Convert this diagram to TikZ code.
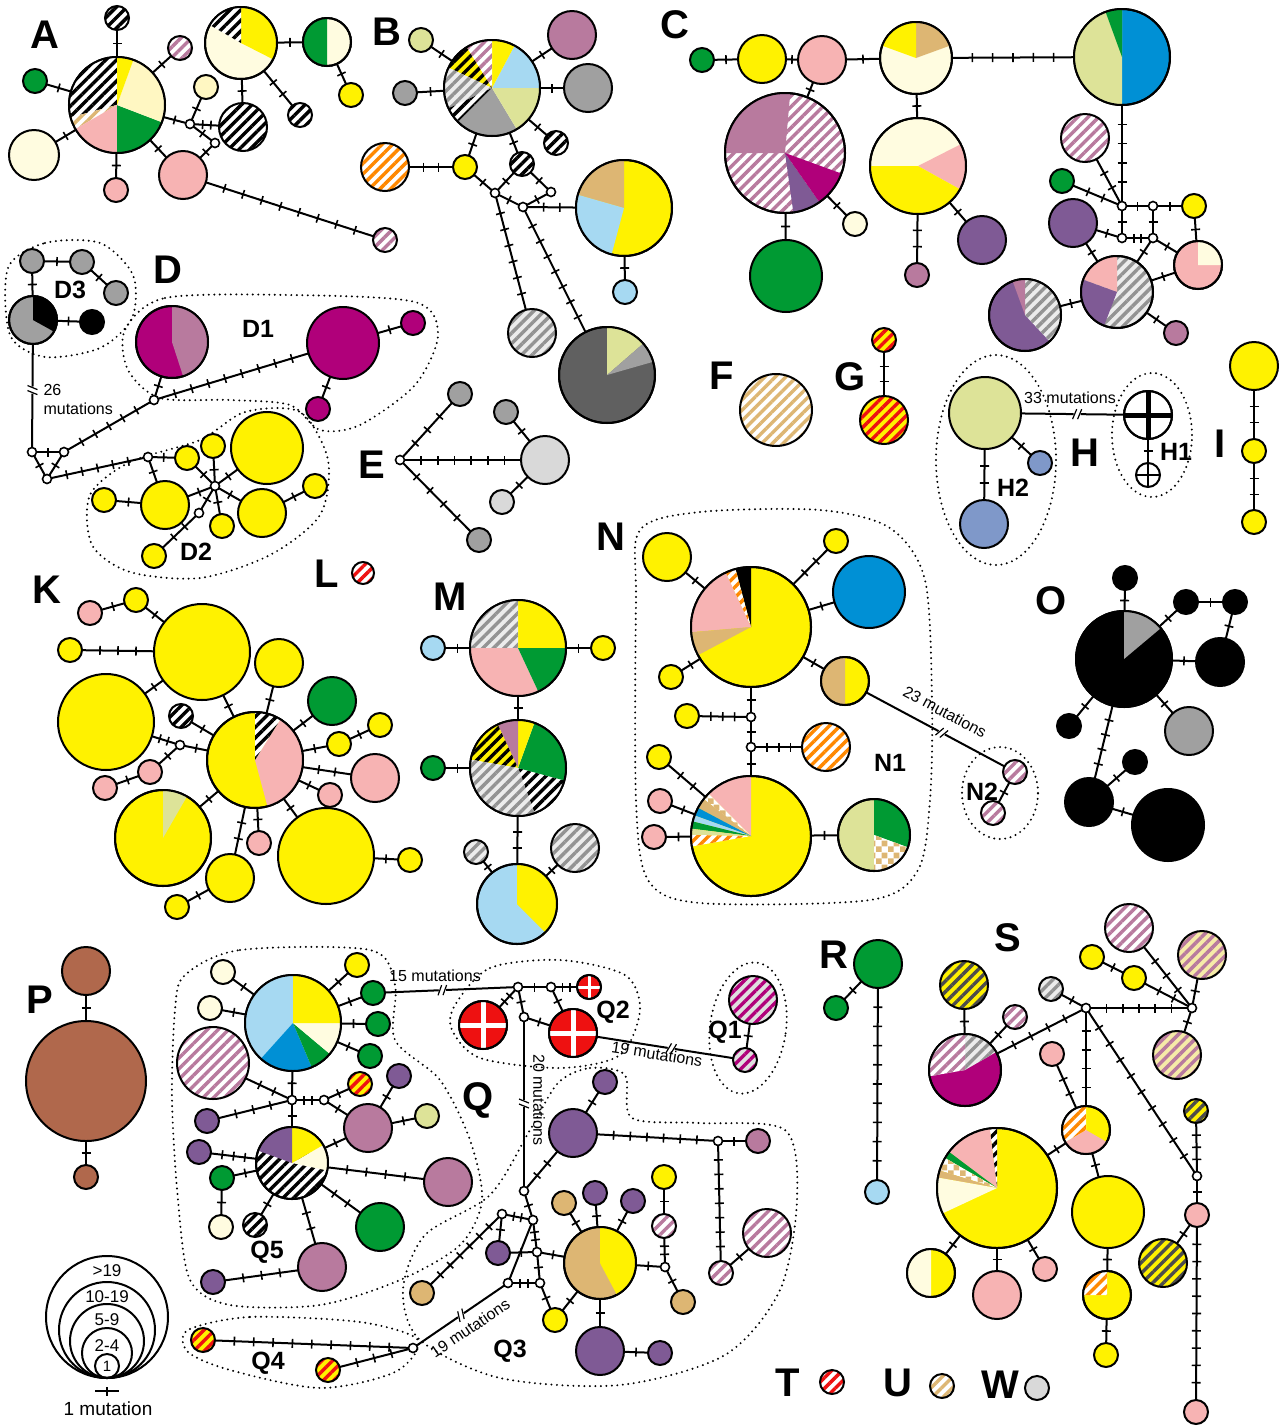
\documentclass[tikz,border=0pt]{standalone}
\usepackage{fontspec}
\setmainfont{Liberation Sans}
\usetikzlibrary{decorations.markings,patterns,patterns.meta}
\definecolor{cy}{HTML}{FFF200}
\definecolor{ccr}{HTML}{FFFCE0}
\definecolor{cpy}{HTML}{FFF7C2}
\definecolor{cgr}{HTML}{009A33}
\definecolor{cpk}{HTML}{F7B3B3}
\definecolor{cmv}{HTML}{B87A9E}
\definecolor{cmg}{HTML}{B0007A}
\definecolor{cpu}{HTML}{7F5A95}
\definecolor{clb}{HTML}{A6D9F2}
\definecolor{cbl}{HTML}{0090D5}
\definecolor{ctn}{HTML}{DDB673}
\definecolor{col}{HTML}{DDE398}
\definecolor{cgy}{HTML}{A0A0A0}
\definecolor{cdg}{HTML}{606060}
\definecolor{clg}{HTML}{D9D9D9}
\definecolor{cbr}{HTML}{B0684C}
\definecolor{csb}{HTML}{7F98C9}
\definecolor{crd}{HTML}{EE1111}
\definecolor{cor}{HTML}{FF8800}
\definecolor{cpy2}{HTML}{F6EBA8}
\tikzdeclarepattern{name=chkb, type=uncolored, bounding box={(0pt,0pt) and (12pt,12pt)}, tile size={(12pt,12pt)}, code={\fill (0pt,0pt) rectangle (6pt,6pt); \fill (6pt,6pt) rectangle (12pt,12pt);}}
\newcommand\tickmk{\draw[line width=1.6pt] (0pt,-4.5pt) -- (0pt,4.5pt);}
\newcommand\Hp[5]{\node[hap,minimum size={2*#4pt},#5] (#1) at (#2,-#3) {};}
\newcommand\Md[3]{\node[med] (#1) at (#2,-#3) {};}
\newcommand\Wg[5]{\fill[#5] (#1.center) -- ++(#3:#2pt) arc[start angle=#3,end angle=#4,radius=#2pt] -- cycle;}
\newcommand\Rm[2]{\draw[line width=2pt] (#1.center) circle[radius=#2pt];}
\newcommand\Ed[3][]{\draw[ed,#1] (#2) -- (#3);}
\tikzset{
 hap/.style={circle,draw,line width=2pt,inner sep=0pt,outer sep=0pt,fill=white},
 med/.style={circle,draw,line width=1.6pt,fill=white,inner sep=0pt,outer sep=0pt,minimum size=9pt},
 ed/.style={line width=2pt},
 hpat/.style 2 args={fill=#1, path picture={\fill[pattern={Lines[angle=45,distance=7.5pt,line width=3.4pt]}, pattern color=#2] (path picture bounding box.south west) rectangle (path picture bounding box.north east);}},
 hb/.style={hpat={white}{black}},
 hm/.style={hpat={white}{cmv}},
 hg/.style={hpat={gray!15}{gray!85}},
 ho/.style={hpat={white}{cor}},
 hry/.style={hpat={cy}{crd}},
 hyb/.style={hpat={cy}{black}},
 hyg/.style={hpat={cy}{black!70}},
 hym/.style={hpat={cpy2}{cmv}},
 hr/.style={hpat={white}{crd}},
 ht/.style={hpat={white}{ctn}},
 hmq/.style={hpat={gray!25}{cmg}},
 chk/.style={fill=white, path picture={\fill[pattern=chkb, pattern color=ctn] (path picture bounding box.south west) rectangle (path picture bounding box.north east);}},
 mut/.code={\pgfmathsetmacro\mutS{1/(#1+1)}\pgfmathsetmacro\mutE{#1/(#1+1)+0.002}\edef\mutT{\noexpand\tikzset{postaction={decorate,decoration={markings,mark=between positions \mutS\space and \mutE\space step \mutS\space with {\noexpand\tickmk}}}}}\mutT},
 brk/.style={postaction={decorate,decoration={markings,mark=at position #1 with {\fill[white] (-4pt,-5pt) rectangle (3pt,5pt); \draw[line width=1.2pt] (-5pt,-5pt)--(-1pt,5pt) (0pt,-5pt)--(4pt,5pt);}}}},
 dots/.style={line width=2.2pt,dash pattern=on 0pt off 5.5pt,line cap=round},
 plab/.style={font=\fontsize{40}{40}\selectfont\bfseries},
 slab/.style={font=\fontsize{25}{25}\selectfont\bfseries},
 mlab/.style={font=\fontsize{16}{19}\selectfont},
}
\begin{document}
\begin{tikzpicture}[x=1pt,y=1pt]
\useasboundingbox (0,0) rectangle (1279,-1428);
\fill[white] (0,0) rectangle (1279,-1428);
% ---------------- dotted outlines
\draw[dots] plot[smooth cycle] coordinates {(8,-268) (45,-243) (100,-243) (133,-275) (132,-318) (100,-348) (45,-357) (10,-335)};
\draw[dots] plot[smooth cycle] coordinates {(125,-330) (165,-298) (290,-295) (415,-302) (438,-335) (415,-385) (360,-425) (320,-430) (290,-405) (230,-400) (160,-398) (128,-370)};
\draw[dots] plot[smooth cycle] coordinates {(90,-495) (130,-462) (200,-440) (245,-412) (300,-412) (328,-460) (320,-515) (270,-555) (200,-578) (130,-572) (92,-545)};
\draw[dots] (996,-460) ellipse[x radius=60, y radius=105];
\draw[dots] (1152,-435) ellipse[x radius=40, y radius=62];
\draw[dots] plot[smooth cycle] coordinates {(640,-530) (700,-512) (820,-510) (890,-528) (925,-580) (932,-700) (930,-800) (918,-870) (870,-900) (700,-903) (648,-880) (636,-800) (636,-600)};
\draw[dots] (1000,-793) ellipse[x radius=38, y radius=46];
\draw[dots] plot[smooth cycle] coordinates {(185,-975) (240,-950) (370,-950) (395,-985) (395,-1040) (440,-1080) (470,-1140) (482,-1200) (460,-1245) (400,-1280) (320,-1305) (230,-1305) (190,-1280) (178,-1200) (172,-1100) (175,-1010)};
\draw[dots] plot[smooth cycle] coordinates {(455,-1005) (490,-968) (560,-960) (625,-975) (640,-1010) (620,-1055) (560,-1068) (480,-1058) (452,-1030)};
\draw[dots, rotate around={-8:(748,-1028)}] (748,-1028) ellipse[x radius=38, y radius=66];
\draw[dots] plot[smooth cycle] coordinates {(558,-1083) (590,-1068) (625,-1075) (632,-1118) (700,-1123) (785,-1130) (797,-1200) (780,-1290) (725,-1355) (620,-1385) (500,-1378) (420,-1340) (403,-1290) (425,-1235) (490,-1195) (530,-1130)};
\draw[dots] plot[smooth cycle] coordinates {(188,-1330) (250,-1317) (360,-1322) (418,-1340) (395,-1372) (320,-1388) (230,-1370) (188,-1352)};
% ---------------- panel labels
\node[plab] (lA) at (45,-35) {A};
\node[plab] (lB) at (387,-32) {B};
\node[plab] (lC) at (675,-25) {C};
\node[plab] (lD) at (168,-270) {D};
\node[plab] (lE) at (372,-465) {E};
\node[plab] (lF) at (722,-376) {F};
\node[plab] (lG) at (850,-377) {G};
\node[plab] (lH) at (1085,-453) {H};
\node[plab] (lI) at (1220,-444) {I};
\node[plab] (lK) at (47,-590) {K};
\node[plab] (lL) at (327,-574) {L};
\node[plab] (lM) at (450,-597) {M};
\node[plab] (lN) at (611,-537) {N};
\node[plab] (lO) at (1051,-601) {O};
\node[plab] (lP) at (40,-1000) {P};
\node[plab] (lQ) at (478,-1100) {Q};
\node[plab] (lR) at (834,-955) {R};
\node[plab] (lS) at (1008,-938) {S};
\node[plab] (lT) at (788,-1383) {T};
\node[plab] (lU) at (898,-1383) {U};
\node[plab] (lW) at (1000,-1385) {W};
\node[slab] (sD3) at (70,-290) {D3};
\node[slab] (sD1) at (258,-329) {D1};
\node[slab] (sD2) at (196,-552) {D2};
\node[slab] (sH2) at (1013,-488) {H2};
\node[slab] (sH1) at (1176,-452) {H1};
\node[slab] (sN1) at (890,-763) {N1};
\node[slab] (sN2) at (982,-792) {N2};
\node[slab] (sQ5) at (267,-1252) {Q5};
\node[slab] (sQ4) at (268,-1363) {Q4};
\node[slab] (sQ3) at (510,-1351) {Q3};
\node[slab] (sQ2) at (613,-1012) {Q2};
\node[slab] (sQ1) at (725,-1032) {Q1};
% ---------------- A
\Hp{a0}{117}{105}{48}{fill=white}
\Wg{a0}{48}{90}{195}{hb}
\Wg{a0}{48}{195}{210}{ht}
\Wg{a0}{48}{210}{270}{fill=cpk}
\Wg{a0}{48}{270}{339}{fill=cgr}
\Wg{a0}{48}{339}{430}{fill=cpy}
\Wg{a0}{48}{70}{90}{fill=cy}
\Rm{a0}{48}
\Hp{a1}{117}{18}{12}{hb}
\Hp{a2}{180}{48}{12}{hm}
\Hp{a3}{35}{81}{12}{fill=cgr}
\Hp{a4}{34}{155}{25}{fill=ccr}
\Hp{a5}{116}{190}{12}{fill=cpk}
\Hp{a6}{183}{175}{24}{fill=cpk}
\Md{am1}{190}{124}
\Md{am2}{215}{143}
\Hp{a7}{206}{87}{12}{fill=cpy}
\Hp{a8}{243}{127}{24}{hb}
\Hp{a9}{241}{43}{36}{fill=ccr}
\Wg{a9}{36}{-27}{90}{fill=cy}
\Wg{a9}{36}{90}{150}{hb}
\Rm{a9}{36}
\Hp{a10}{300}{115}{12}{hb}
\Hp{a11}{327}{42}{24}{fill=ccr}
\Wg{a11}{24}{90}{270}{fill=cgr}
\Rm{a11}{24}
\Hp{a12}{351}{95}{12}{fill=cy}
\Hp{a13}{385}{240}{12}{hm}
\Ed[mut=1]{a0}{a1}\Ed[mut=1]{a0}{a2}\Ed[mut=1]{a0}{a3}\Ed[mut=1]{a0}{a4}
\Ed[mut=1]{a0}{a5}\Ed[mut=1]{a0}{a6}\Ed[mut=1]{a0}{am1}\Ed[mut=1]{am1}{a7}
\Ed[mut=2]{am1}{a8}\Ed[mut=1]{am1}{am2}\Ed[mut=1]{am2}{a6}\Ed[mut=1]{a8}{a9}
\Ed[mut=2]{a9}{a10}\Ed[mut=1]{a9}{a11}\Ed[mut=1]{a11}{a12}\Ed[mut=8]{a6}{a13}
% ---------------- B
\Hp{b0}{492}{88}{48}{fill=white}
\Wg{b0}{48}{0}{62}{fill=clb}
\Wg{b0}{48}{62}{90}{fill=cy}
\Wg{b0}{48}{90}{122}{hm}
\Wg{b0}{48}{122}{155}{hyb}
\Wg{b0}{48}{155}{205}{hg}
\Wg{b0}{48}{205}{225}{hb}
\Wg{b0}{48}{225}{301}{fill=cgy}
\Wg{b0}{48}{301}{360}{fill=col}
\Rm{b0}{48}
\Hp{b1}{421}{40}{12}{fill=col}
\Hp{b2}{405}{93}{12}{fill=cgy}
\Hp{b3}{572}{35}{24}{fill=cmv}
\Hp{b4}{588}{88}{24}{fill=cgy}
\Hp{b5}{556}{143}{12}{hb}
\Hp{b6}{465}{167}{12}{fill=cy}
\Hp{b7}{385}{167}{24}{ho}
\Hp{b8}{522}{164}{12}{hb}
\Md{bm1}{495}{193}\Md{bm2}{523}{207}\Md{bm3}{551}{192}
\Hp{b9}{624}{208}{48}{fill=cy}
\Wg{b9}{48}{90}{164}{fill=ctn}
\Wg{b9}{48}{164}{255}{fill=clb}
\Rm{b9}{48}
\Hp{b10}{625}{292}{12}{fill=clb}
\Hp{b11}{532}{333}{24}{hg}
\Hp{b12}{607}{375}{48}{fill=cdg}
\Wg{b12}{48}{41}{90}{fill=col}
\Wg{b12}{48}{16}{41}{fill=cgy}
\Rm{b12}{48}
\Ed[mut=1]{b0}{b1}\Ed[mut=1]{b0}{b2}\Ed[mut=1]{b0}{b3}\Ed[mut=1]{b0}{b4}
\Ed[mut=1]{b0}{b5}\Ed[mut=1]{b0}{b6}\Ed[mut=2]{b6}{b7}\Ed[mut=1]{b0}{b8}
\Ed[mut=1]{b6}{bm1}\Ed[mut=1]{b8}{bm1}\Ed[mut=1]{b8}{bm3}\Ed[mut=1]{bm1}{bm2}
\Ed[mut=1]{bm3}{bm2}\Ed[mut=2]{bm2}{b9}\Ed[mut=1]{b9}{b10}\Ed[mut=6]{bm1}{b11}
\Ed[mut=7]{bm2}{b12}
% ---------------- C
\Hp{c1}{702}{60}{12}{fill=cgr}
\Hp{c2}{762}{59}{24}{fill=cy}
\Hp{c3}{822}{60}{24}{fill=cpk}
\Hp{c4}{916}{58}{36}{fill=ccr}
\Wg{c4}{36}{20}{90}{fill=ctn}
\Wg{c4}{36}{90}{160}{fill=cy}
\Rm{c4}{36}
\Hp{c5}{1122}{57}{48}{fill=cbl}
\Wg{c5}{48}{90}{270}{fill=col}
\Wg{c5}{48}{90}{110}{fill=cgr}
\Rm{c5}{48}
\Hp{c6}{785}{153}{60}{hm}
\Wg{c6}{60}{85}{180}{fill=cmv}
\Wg{c6}{60}{278}{305}{fill=cpu}
\Wg{c6}{60}{305}{340}{fill=cmg}
\Rm{c6}{60}
\Hp{c7}{855}{224}{12}{fill=ccr}
\Hp{c8}{786}{276}{36}{fill=cgr}
\Hp{c9}{918}{166}{48}{fill=ccr}
\Wg{c9}{48}{-29}{27}{fill=cpk}
\Wg{c9}{48}{180}{331}{fill=cy}
\Rm{c9}{48}
\Hp{c10}{917}{275}{12}{fill=cmv}
\Hp{c11}{982}{240}{24}{fill=cpu}
\Md{cm1}{1122}{206}\Md{cm2}{1153}{206}\Md{cm3}{1122}{238}\Md{cm4}{1153}{238}
\Hp{c12}{1085}{138}{24}{hm}
\Hp{c13}{1062}{181}{12}{fill=cgr}
\Hp{c14}{1194}{206}{12}{fill=cy}
\Hp{c15}{1073}{223}{24}{fill=cpu}
\Hp{c16}{1198}{265}{24}{fill=cpk}
\Wg{c16}{24}{0}{90}{fill=ccr}
\Rm{c16}{24}
\Hp{c17}{1117}{292}{36}{hg}
\Wg{c17}{36}{90}{160}{fill=cpk}
\Wg{c17}{36}{160}{249}{fill=cpu}
\Rm{c17}{36}
\Hp{c18}{1025}{315}{36}{fill=cpu}
\Wg{c18}{36}{-47}{90}{hg}
\Wg{c18}{36}{90}{110}{fill=cmv}
\Rm{c18}{36}
\Hp{c19}{1176}{333}{12}{fill=cmv}
\Ed[mut=1]{c1}{c2}\Ed[mut=1]{c2}{c3}\Ed[mut=1]{c3}{c4}\Ed[mut=5]{c4}{c5}
\Ed[mut=1]{c3}{c6}\Ed[mut=1]{c6}{c7}\Ed[mut=1]{c6}{c8}\Ed[mut=1]{c4}{c9}
\Ed[mut=2]{c9}{c10}\Ed[mut=1]{c9}{c11}\Ed[mut=4]{c5}{cm1}\Ed[mut=2]{c12}{cm1}
\Ed[mut=2]{c13}{cm1}\Ed[mut=1]{cm1}{cm2}\Ed[mut=1]{cm2}{c14}\Ed[mut=1]{cm1}{cm3}
\Ed[mut=1]{cm2}{cm4}\Ed[mut=2]{cm3}{cm4}\Ed[mut=1]{c15}{cm3}\Ed[mut=1]{c14}{c16}
\Ed[mut=1]{cm4}{c16}\Ed[mut=1]{cm4}{c17}\Ed[mut=1]{c15}{c17}\Ed[mut=1]{c17}{c16}
\Ed[mut=1]{c17}{c18}\Ed[mut=1]{c17}{c19}
% ---------------- D
\Hp{d1}{32}{261}{12}{fill=cgy}
\Hp{d2}{82}{262}{12}{fill=cgy}
\Hp{d3}{116}{293}{12}{fill=cgy}
\Hp{d4}{33}{320}{24}{fill=cgy}
\Wg{d4}{24}{-29}{90}{fill=black}
\Rm{d4}{24}
\Hp{d5}{92}{322}{12}{fill=black}
\Md{dmA}{32}{452}\Md{dmB}{64}{452}\Md{dmC}{47}{479}\Md{dmD}{154}{400}
\Hp{d6}{172}{342}{36}{fill=cmg}
\Wg{d6}{36}{-72}{90}{fill=cmv}
\Rm{d6}{36}
\Hp{d7}{343}{343}{36}{fill=cmg}
\Hp{d8}{413}{323}{12}{fill=cmg}
\Hp{d9}{318}{409}{12}{fill=cmg}
\Md{dmE}{148}{457}
\Hp{d10}{187}{458}{12}{fill=cy}
\Hp{d11}{213}{446}{12}{fill=cy}
\Hp{d12}{267}{448}{36}{fill=cy}
\Md{dmF}{215}{486}
\Hp{d13}{165}{505}{24}{fill=cy}
\Hp{d14}{104}{500}{12}{fill=cy}
\Hp{d15}{262}{513}{24}{fill=cy}
\Hp{d16}{315}{486}{12}{fill=cy}
\Hp{d17}{222}{526}{12}{fill=cy}
\Md{dmG}{199}{513}
\Hp{d18}{154}{556}{12}{fill=cy}
\Ed[mut=1]{d1}{d2}\Ed[mut=1]{d2}{d3}\Ed[mut=1]{d1}{d4}\Ed[mut=1]{d4}{d5}
\Ed[brk=0.45]{d4}{dmA}
\Ed[mut=1]{dmA}{dmB}\Ed[mut=1]{dmA}{dmC}\Ed[mut=1]{dmB}{dmC}\Ed[mut=5]{dmB}{dmD}
\Ed[mut=1]{dmD}{d6}\Ed[mut=8]{dmD}{d7}\Ed[mut=1]{d7}{d8}\Ed[mut=1]{d7}{d9}
\Ed[mut=5]{dmC}{dmE}\Ed[mut=1]{dmE}{d10}\Ed[mut=1]{dmE}{d13}\Ed[mut=1]{d13}{d14}
\Ed[mut=1]{dmF}{d10}\Ed[mut=1]{dmF}{d11}\Ed[mut=1]{dmF}{d12}\Ed[mut=1]{dmF}{d15}
\Ed[mut=1]{dmF}{d17}\Ed[mut=1]{dmF}{d13}\Ed[mut=1]{dmF}{dmG}\Ed[mut=2]{dmG}{d18}
\Ed[mut=1]{d15}{d16}
\node[mlab,anchor=west,align=left] (t26) at (40,-399) {26\\mutations};
% ---------------- E
\Md{em}{400}{460}
\Hp{e1}{460}{394}{12}{fill=cgy}
\Hp{e2}{506}{412}{12}{fill=cgy}
\Hp{e3}{545}{460}{24}{fill=clg}
\Hp{e4}{502}{502}{12}{fill=clg}
\Hp{e5}{479}{540}{12}{fill=cgy}
\Ed[mut=3]{em}{e1}\Ed[mut=6]{em}{e3}\Ed[mut=4]{em}{e5}\Ed[mut=1]{e2}{e3}\Ed[mut=1]{e4}{e3}
% ---------------- F G
\Hp{f1}{776}{410}{36}{ht}
\Hp{g1}{884}{340}{12}{hry}
\Hp{g2}{884}{420}{24}{hry}
\Ed[mut=2]{g1}{g2}
% ---------------- H
\Hp{h1}{985}{413}{36}{fill=col}
\Hp{h2}{1040}{463}{12}{fill=csb}
\Hp{h3}{984}{524}{24}{fill=csb}
\Hp{h4}{1148}{415}{24}{fill=white}
\draw[line width=5pt] (h4.north) -- (h4.south) (h4.west) -- (h4.east);
\Rm{h4}{24}
\Hp{h5}{1148}{475}{12}{fill=white}
\draw[line width=2pt] (h5.north) -- (h5.south) (h5.west) -- (h5.east);
\Ed[mut=1]{h1}{h2}\Ed[mut=2]{h1}{h3}\Ed[mut=1]{h4}{h5}\Ed[brk=0.55]{h1}{h4}
\node[mlab] (t33) at (1070,-398) {33 mutations};
% ---------------- I
\Hp{i1}{1254}{366}{24}{fill=cy}
\Hp{i2}{1254}{451}{12}{fill=cy}
\Hp{i3}{1254}{522}{12}{fill=cy}
\Ed[mut=2]{i1}{i2}\Ed[mut=2]{i2}{i3}
% ---------------- K
\Hp{k0}{255}{760}{48}{fill=cy}
\Wg{k0}{48}{-75}{58}{fill=cpk}
\Wg{k0}{48}{58}{90}{hb}
\Rm{k0}{48}
\Hp{k1}{202}{652}{48}{fill=cy}
\Hp{k2}{106}{722}{48}{fill=cy}
\Hp{k3}{163}{838}{48}{fill=cy}
\Wg{k3}{48}{60}{90}{fill=col}
\Rm{k3}{48}
\Hp{k4}{326}{856}{48}{fill=cy}
\Hp{k5}{279}{663}{24}{fill=cy}
\Hp{k6}{332}{701}{24}{fill=cgr}
\Hp{k7}{181}{716}{12}{hb}
\Md{km}{180}{745}
\Hp{k8}{150}{772}{12}{fill=cpk}
\Hp{k9}{105}{788}{12}{fill=cpk}
\Hp{k10}{339}{744}{12}{fill=cy}
\Hp{k11}{380}{725}{12}{fill=cy}
\Hp{k12}{375}{778}{24}{fill=cpk}
\Hp{k13}{330}{795}{12}{fill=cpk}
\Hp{k14}{259}{843}{12}{fill=cpk}
\Hp{k15}{230}{878}{24}{fill=cy}
\Hp{k16}{177}{907}{12}{fill=cy}
\Hp{k17}{410}{860}{12}{fill=cy}
\Hp{k18}{90}{613}{12}{fill=cpk}
\Hp{k19}{136}{600}{12}{fill=cy}
\Hp{k20}{70}{650}{12}{fill=cy}
\Ed[mut=1]{k0}{k1}\Ed[mut=1]{k1}{k19}\Ed[mut=1]{k19}{k18}\Ed[mut=3]{k1}{k20}
\Ed[mut=1]{k1}{k2}\Ed[mut=2]{k2}{km}\Ed[mut=1]{km}{k0}\Ed[mut=1]{km}{k8}
\Ed[mut=1]{k8}{k9}\Ed[mut=1]{k7}{k0}\Ed[mut=1]{k0}{k5}\Ed[mut=1]{k0}{k6}
\Ed[mut=1]{k0}{k10}\Ed[mut=1]{k10}{k11}\Ed[mut=2]{k0}{k12}\Ed[mut=1]{k0}{k13}
\Ed[mut=1]{k0}{k3}\Ed[mut=1]{k0}{k14}\Ed[mut=2]{k0}{k15}\Ed[mut=1]{k15}{k16}
\Ed[mut=1]{k0}{k4}\Ed[mut=1]{k4}{k17}
% ---------------- L
\Hp{l1}{363}{573}{11}{hr}
% ---------------- M
\Hp{m1}{518}{648}{48}{fill=white}
\Wg{m1}{48}{0}{90}{fill=cy}
\Wg{m1}{48}{90}{180}{hg}
\Wg{m1}{48}{180}{295}{fill=cpk}
\Wg{m1}{48}{295}{360}{fill=cgr}
\Rm{m1}{48}
\Hp{m2}{433}{648}{12}{fill=clb}
\Hp{m3}{603}{648}{12}{fill=cy}
\Hp{m4}{518}{768}{48}{fill=white}
\Wg{m4}{48}{290}{345}{hb}
\Wg{m4}{48}{345}{430}{fill=cgr}
\Wg{m4}{48}{70}{90}{fill=cy}
\Wg{m4}{48}{90}{115}{fill=cmv}
\Wg{m4}{48}{115}{170}{hyb}
\Wg{m4}{48}{170}{290}{hg}
\Rm{m4}{48}
\Hp{m5}{433}{768}{12}{fill=cgr}
\Hp{m6}{517}{904}{40}{fill=clb}
\Wg{m6}{40}{-45}{90}{fill=cy}
\Rm{m6}{40}
\Hp{m7}{476}{852}{12}{hg}
\Hp{m8}{575}{848}{24}{hg}
\Ed[mut=1]{m1}{m2}\Ed[mut=1]{m1}{m3}\Ed[mut=1]{m1}{m4}\Ed[mut=1]{m4}{m5}
\Ed[mut=2]{m4}{m6}\Ed[mut=1]{m6}{m7}\Ed[mut=1]{m6}{m8}
% ---------------- N
\Hp{n0}{751}{627}{60}{fill=cy}
\Wg{n0}{60}{90}{105}{fill=black}
\Wg{n0}{60}{105}{115}{ho}
\Wg{n0}{60}{115}{185}{fill=cpk}
\Wg{n0}{60}{185}{208}{fill=ctn}
\Rm{n0}{60}
\Hp{n1}{667}{557}{24}{fill=cy}
\Hp{n2}{836}{541}{12}{fill=cy}
\Hp{n3}{869}{592}{36}{fill=cbl}
\Hp{n4}{671}{677}{12}{fill=cy}
\Hp{n5}{845}{681}{24}{fill=cy}
\Wg{n5}{24}{90}{270}{fill=ctn}
\Rm{n5}{24}
\Md{nm1}{751}{717}\Md{nm2}{751}{747}
\Hp{n6}{687}{716}{12}{fill=cy}
\Hp{n7}{826}{747}{24}{ho}
\Hp{n8}{751}{836}{60}{fill=cy}
\Wg{n8}{60}{90}{135}{fill=cpk}
\Wg{n8}{60}{135}{142}{chk}
\Wg{n8}{60}{142}{152}{fill=ctn}
\Wg{n8}{60}{152}{160}{fill=cbl}
\Wg{n8}{60}{160}{166}{fill=clb}
\Wg{n8}{60}{166}{173}{fill=cgr}
\Wg{n8}{60}{173}{179}{fill=col}
\Wg{n8}{60}{179}{190}{ho}
\Rm{n8}{60}
\Hp{n9}{659}{757}{12}{fill=cy}
\Hp{n10}{660}{801}{12}{fill=cpk}
\Hp{n11}{654}{837}{12}{fill=cpk}
\Hp{n12}{874}{835}{36}{fill=col}
\Wg{n12}{36}{-20}{90}{fill=cgr}
\Wg{n12}{36}{-90}{-20}{chk}
\Rm{n12}{36}
\Hp{n13}{1015}{772}{12}{hm}
\Hp{n14}{993}{813}{12}{hm}
\Ed[mut=1]{n0}{n1}\Ed[mut=2]{n0}{n2}\Ed[mut=1]{n0}{n3}\Ed[mut=1]{n0}{n4}
\Ed[mut=1]{n0}{n5}\Ed[mut=1]{n0}{nm1}\Ed[mut=1]{nm1}{nm2}\Ed[mut=1]{nm2}{n8}
\Ed[mut=3]{nm1}{n6}\Ed[mut=3]{nm2}{n7}\Ed[mut=2]{n8}{n9}\Ed[mut=1]{n8}{n10}
\Ed[mut=1]{n8}{n11}\Ed[mut=1]{n8}{n12}\Ed[brk=0.55]{n5}{n13}\Ed[mut=1]{n13}{n14}
\node[mlab,rotate=-28] (t23) at (945,-712) {23 mutations};
% ---------------- O
\Hp{o0}{1124}{659}{48}{fill=black}
\Wg{o0}{48}{40}{90}{fill=cgy}
\Rm{o0}{48}
\Hp{o1}{1125}{578}{12}{fill=black}
\Hp{o2}{1186}{602}{12}{fill=black}
\Hp{o3}{1235}{602}{12}{fill=black}
\Hp{o4}{1220}{662}{24}{fill=black}
\Hp{o5}{1069}{726}{12}{fill=black}
\Hp{o6}{1189}{731}{24}{fill=cgy}
\Hp{o7}{1089}{802}{24}{fill=black}
\Hp{o8}{1135}{762}{12}{fill=black}
\Hp{o9}{1168}{825}{36}{fill=black}
\Ed[mut=1]{o0}{o1}\Ed[mut=1]{o0}{o2}\Ed[mut=1]{o2}{o3}\Ed[mut=1]{o3}{o4}
\Ed[mut=1]{o0}{o4}\Ed[mut=1]{o0}{o5}\Ed[mut=1]{o0}{o6}\Ed[mut=4]{o0}{o7}
\Ed[mut=1]{o7}{o8}\Ed[mut=1]{o7}{o9}
% ---------------- P
\Hp{p1}{86}{971}{24}{fill=cbr}
\Hp{p2}{86}{1081}{60}{fill=cbr}
\Hp{p3}{86}{1177}{12}{fill=cbr}
\Ed[mut=1]{p1}{p2}\Ed[mut=1]{p2}{p3}
% ---------------- legend
\draw[line width=2pt] (107,-1317) circle[radius=61];
\draw[line width=2pt] (107,-1330) circle[radius=48];
\draw[line width=2pt] (107,-1341) circle[radius=37];
\draw[line width=2pt] (107,-1353) circle[radius=25];
\draw[line width=2pt] (107,-1366) circle[radius=12];
\node[font=\fontsize{17}{17}\selectfont] (lg1) at (107,-1271) {>19};
\node[font=\fontsize{17}{17}\selectfont] (lg2) at (107,-1297) {10-19};
\node[font=\fontsize{17}{17}\selectfont] (lg3) at (107,-1320) {5-9};
\node[font=\fontsize{17}{17}\selectfont] (lg4) at (107,-1346) {2-4};
\node[font=\fontsize{15}{15}\selectfont] (lg5) at (107,-1366) {1};
\coordinate (lgL) at (95,-1391);
\coordinate (lgR) at (119,-1391);
\draw[ed,mut=1] (lgL) -- (lgR);
\node[font=\fontsize{19}{19}\selectfont] (lg6) at (108,-1409) {1 mutation};
% ---------------- Q5
\Hp{q0}{293}{1023}{48}{fill=white}
\Wg{q0}{48}{90}{228}{fill=clb}
\Wg{q0}{48}{228}{293}{fill=cbl}
\Wg{q0}{48}{293}{320}{fill=cgr}
\Wg{q0}{48}{320}{360}{fill=ccr}
\Wg{q0}{48}{0}{90}{fill=cy}
\Rm{q0}{48}
\Hp{q1}{223}{972}{12}{fill=ccr}
\Hp{q2}{210}{1008}{12}{fill=ccr}
\Hp{q3}{357}{965}{12}{fill=cy}
\Hp{q4}{373}{993}{12}{fill=cgr}
\Hp{q5}{378}{1024}{12}{fill=cgr}
\Hp{q6}{370}{1056}{12}{fill=cgr}
\Hp{q7}{213}{1063}{36}{hm}
\Md{qm1}{292}{1100}\Md{qm2}{324}{1100}
\Hp{q8}{207}{1121}{12}{fill=cpu}
\Hp{q9}{292}{1163}{36}{hb}
\Wg{q9}{36}{-12}{30}{fill=ccr}
\Wg{q9}{36}{30}{90}{fill=cy}
\Wg{q9}{36}{90}{160}{fill=cpu}
\Rm{q9}{36}
\Hp{q10}{360}{1084}{12}{hry}
\Hp{q11}{368}{1128}{24}{fill=cmv}
\Hp{q12}{399}{1076}{12}{fill=cpu}
\Hp{q13}{427}{1116}{12}{fill=col}
\Hp{q14}{199}{1152}{12}{fill=cpu}
\Hp{q15}{222}{1178}{12}{fill=cgr}
\Hp{q16}{221}{1227}{12}{fill=ccr}
\Hp{q17}{255}{1225}{12}{hb}
\Hp{q18}{448}{1182}{24}{fill=cmv}
\Hp{q19}{380}{1227}{24}{fill=cgr}
\Hp{q20}{322}{1267}{24}{fill=cmv}
\Hp{q21}{213}{1282}{12}{fill=cpu}
\Ed[mut=1]{q0}{q1}\Ed[mut=1]{q0}{q2}\Ed[mut=1]{q0}{q3}\Ed[mut=1]{q0}{q4}
\Ed[mut=1]{q0}{q5}\Ed[mut=1]{q0}{q6}\Ed[mut=2]{q7}{qm1}\Ed[mut=1]{q0}{qm1}
\Ed[mut=2]{qm1}{qm2}\Ed[mut=3]{qm1}{q8}\Ed[mut=1]{qm1}{q9}\Ed[mut=1]{qm2}{q10}
\Ed[mut=1]{qm2}{q11}\Ed[mut=1]{q11}{q12}\Ed[mut=1]{q11}{q13}\Ed[mut=1]{q11}{q9}
\Ed[mut=3]{q9}{q14}\Ed[mut=1]{q9}{q15}\Ed[mut=1]{q15}{q16}\Ed[mut=1]{q9}{q17}
\Ed[mut=4]{q9}{q18}\Ed[mut=2]{q9}{q19}\Ed[mut=2]{q9}{q20}\Ed[mut=3]{q20}{q21}
% ---------------- Q2 Q1
\Md{qq1}{518}{987}\Md{qq2}{551}{987}\Md{qq3}{524}{1017}
\Hp{r1}{589}{987}{12}{fill=crd}
\draw[white,line width=3pt] (r1.north) -- (r1.south) (r1.west) -- (r1.east);
\Rm{r1}{12}
\Hp{r2}{483}{1025}{24}{fill=crd}
\draw[white,line width=5pt] (r2.north) -- (r2.south) (r2.west) -- (r2.east);
\Rm{r2}{24}
\Hp{r3}{573}{1033}{24}{fill=crd}
\draw[white,line width=5pt] (r3.north) -- (r3.south) (r3.west) -- (r3.east);
\Rm{r3}{24}
\Ed[brk=0.45]{q4}{qq1}
\node[mlab] (t15) at (435,-976) {15 mutations};
\Ed[mut=1]{qq1}{qq2}\Ed[mut=2]{qq2}{r1}\Ed[mut=2]{qq1}{r2}\Ed[mut=1]{qq1}{qq3}
\Ed[mut=1]{qq3}{r3}\Ed[mut=1]{qq2}{r3}
\Hp{s1}{753}{1000}{24}{hmq}
\Hp{s2}{745}{1060}{12}{hmq}
\Ed[mut=1]{s1}{s2}
\Ed[brk=0.55]{r3}{s2}
\node[mlab,rotate=-9] (t19a) at (657,-1054) {19 mutations};
% ---------------- Q3
\Md{qq4}{524}{1191}
\Ed[brk=0.5]{qq3}{qq4}
\node[mlab,rotate=-90] (t20) at (539,-1100) {20 mutations};
\Hp{t1}{573}{1133}{24}{fill=cpu}
\Hp{t2}{605}{1082}{12}{fill=cpu}
\Md{qq5}{718}{1141}
\Hp{t3}{758}{1141}{12}{fill=cmv}
\Hp{t4}{721}{1273}{12}{hm}
\Hp{t5}{767}{1233}{24}{hm}
\Md{qq6}{533}{1220}\Md{qq7}{502}{1214}
\Hp{t6}{498}{1253}{12}{fill=cpu}
\Hp{t7}{422}{1293}{12}{fill=ctn}
\Md{qq8}{537}{1252}\Md{qq9}{508}{1283}\Md{qq10}{540}{1283}
\Hp{t8}{600}{1263}{36}{fill=ctn}
\Wg{t8}{36}{-62}{90}{fill=cy}
\Rm{t8}{36}
\Hp{t9}{555}{1320}{12}{fill=cy}
\Hp{t10}{564}{1203}{12}{fill=ctn}
\Hp{t11}{595}{1193}{12}{fill=cpu}
\Hp{t12}{633}{1201}{12}{fill=cpu}
\Md{qq12}{665}{1267}
\Hp{t13}{664}{1226}{12}{hm}
\Hp{t14}{664}{1177}{12}{fill=cy}
\Hp{t15}{683}{1302}{12}{fill=ctn}
\Hp{t16}{600}{1351}{24}{fill=cpu}
\Hp{t17}{660}{1353}{12}{fill=cpu}
\Ed[mut=2]{qq4}{t1}\Ed[mut=1]{t1}{t2}\Ed[mut=6]{t1}{qq5}\Ed[mut=1]{qq5}{t3}
\Ed[mut=7]{qq5}{t4}\Ed[mut=1]{t4}{t5}\Ed[mut=1]{qq4}{qq6}\Ed[mut=2]{qq6}{qq7}
\Ed[mut=1]{qq7}{t6}\Ed[mut=6]{qq7}{t7}\Ed[mut=2]{qq6}{qq8}\Ed{qq6}{qq9}
\Ed[mut=1]{qq8}{t8}\Ed[mut=1]{t6}{qq8}\Ed[mut=1]{qq8}{qq10}\Ed[mut=2]{qq9}{qq10}
\Ed[mut=1]{qq10}{t9}\Ed[mut=1]{t9}{t8}\Ed[mut=1]{t8}{t10}\Ed[mut=1]{t8}{t11}
\Ed[mut=1]{t8}{t12}\Ed[mut=1]{t8}{qq12}\Ed[mut=2]{qq12}{t13}\Ed[mut=1]{t13}{t14}
\Ed[mut=1]{qq12}{t15}\Ed[mut=1]{t8}{t16}\Ed[mut=1]{t16}{t17}
% ---------------- Q4
\Md{qm4}{413}{1348}
\Hp{u1}{203}{1340}{12}{hry}
\Hp{u2}{328}{1370}{12}{hry}
\Ed[mut=9]{qm4}{u1}\Ed[mut=3]{qm4}{u2}
\Ed[brk=0.5]{qq9}{qm4}
\node[mlab,rotate=34] (t19b) at (470,-1328) {19 mutations};
% ---------------- R
\Hp{v1}{878}{964}{24}{fill=cgr}
\Hp{v2}{836}{1008}{12}{fill=cgr}
\Hp{v3}{877}{1192}{12}{fill=clb}
\Ed[mut=1]{v1}{v2}\Ed[mut=9]{v1}{v3}
% ---------------- S
\Md{sm1}{1086}{1008}\Md{sm2}{1192}{1008}\Md{sm3}{1197}{1176}
\Hp{w1}{1051}{989}{12}{hg}
\Hp{w2}{1129}{928}{24}{hm}
\Hp{w3}{1092}{957}{12}{fill=cy}
\Hp{w4}{1134}{978}{12}{fill=cy}
\Hp{w5}{1202}{955}{24}{hym}
\Hp{w6}{1177}{1055}{24}{hym}
\Hp{w7}{964}{985}{24}{hyg}
\Hp{w8}{965}{1070}{36}{fill=cmg}
\Wg{w8}{36}{30}{90}{hg}
\Wg{w8}{36}{90}{190}{hm}
\Rm{w8}{36}
\Hp{w9}{1015}{1017}{12}{hm}
\Hp{w10}{1052}{1054}{12}{fill=cpk}
\Hp{w11}{1086}{1130}{24}{fill=cy}
\Wg{w11}{24}{210}{330}{fill=cpk}
\Wg{w11}{24}{90}{210}{ho}
\Rm{w11}{24}
\Hp{w12}{1196}{1111}{12}{hyg}
\Hp{w13}{1197}{1215}{12}{fill=cpk}
\Hp{w14}{1163}{1263}{24}{hyg}
\Hp{w15}{1196}{1412}{12}{fill=cpk}
\Hp{w16}{997}{1188}{60}{fill=cy}
\Wg{w16}{60}{90}{97}{hb}
\Wg{w16}{60}{97}{143}{fill=cpk}
\Wg{w16}{60}{143}{150}{fill=cgr}
\Wg{w16}{60}{150}{163}{chk}
\Wg{w16}{60}{163}{170}{fill=ctn}
\Wg{w16}{60}{170}{205}{fill=ccr}
\Rm{w16}{60}
\Hp{w17}{1108}{1212}{36}{fill=cy}
\Hp{w18}{1107}{1295}{24}{fill=cy}
\Wg{w18}{24}{90}{180}{ho}
\Rm{w18}{24}
\Hp{w19}{1106}{1355}{12}{fill=cy}
\Hp{w20}{931}{1273}{24}{fill=cy}
\Wg{w20}{24}{90}{270}{fill=ccr}
\Rm{w20}{24}
\Hp{w21}{997}{1295}{24}{fill=cpk}
\Hp{w22}{1045}{1269}{12}{fill=cpk}
\Ed[mut=5]{sm1}{sm2}\Ed[mut=1]{w1}{sm1}\Ed[mut=3]{w2}{sm2}\Ed[mut=1]{w3}{w4}
\Ed[mut=2]{w4}{sm2}\Ed[mut=1]{w5}{sm2}\Ed[mut=1]{w6}{sm2}\Ed[mut=1]{w7}{w8}
\Ed[mut=1]{w8}{w9}\Ed[mut=4]{w8}{sm1}\Ed[mut=2]{w10}{w11}\Ed[mut=4]{sm1}{w11}
\Ed[mut=9]{sm1}{sm3}\Ed[mut=3]{w12}{sm3}\Ed[mut=1]{sm3}{w13}\Ed[mut=1]{w13}{w14}
\Ed[mut=9]{w13}{w15}\Ed[mut=1]{w11}{w16}\Ed[mut=1]{w11}{w17}\Ed[mut=1]{w17}{w18}
\Ed[mut=1]{w18}{w19}\Ed[mut=1]{w16}{w20}\Ed[mut=1]{w16}{w21}\Ed[mut=1]{w16}{w22}
% ---------------- T U W
\Hp{x1}{832}{1382}{12}{hr}
\Hp{x2}{942}{1386}{12}{ht}
\Hp{x3}{1037}{1388}{12}{fill=clg}
\end{tikzpicture}
\end{document}
